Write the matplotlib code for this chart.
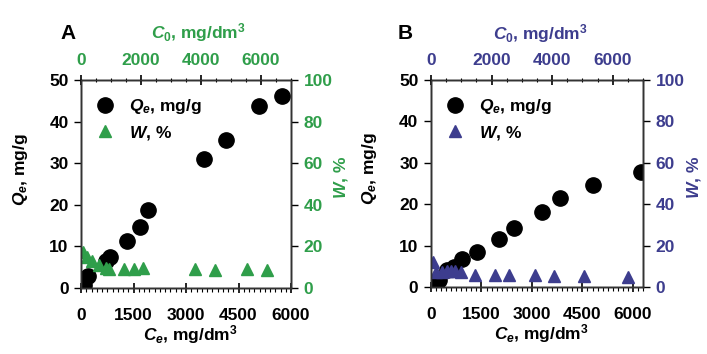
import matplotlib
matplotlib.use("Agg")
import matplotlib.pyplot as plt
import numpy as np
from matplotlib.ticker import MultipleLocator

plt.rcParams['font.family'] = ['Liberation Sans', 'DejaVu Sans']
plt.rcParams['font.weight'] = 'bold'
plt.rcParams['mathtext.fontset'] = 'custom'
plt.rcParams['mathtext.it'] = 'Liberation Sans:bold:italic'
plt.rcParams['mathtext.rm'] = 'Liberation Sans:bold'
plt.rcParams['mathtext.bf'] = 'Liberation Sans:bold'

# panel A
ce_q_a = [80, 66, 210, 710, 833, 1313, 1676, 1925, 3506, 4138, 5086, 5738]
q_a = [0.7, 1.4, 3.0, 6.6, 7.4, 11.4, 14.7, 18.75, 30.9, 35.6, 43.75, 46.1]
ce_w_a = [66, 180, 325, 517, 710, 805, 1215, 1523, 1782, 3267, 3842, 4733, 5307]
w_a = [17.5, 15.0, 13.1, 11.0, 9.5, 9.0, 9.0, 9.0, 9.5, 9.0, 8.7, 9.0, 8.7]

# panel B
ce_q_b = [20, 230, 484, 670, 935, 1380, 2010, 2475, 3284, 3848, 4816, 6231]
q_b = [1.0, 1.6, 4.1, 4.9, 6.7, 8.4, 11.6, 14.3, 18.2, 21.4, 24.6, 27.8]
ce_w_b = [50, 150, 330, 480, 600, 700, 900, 1306, 1910, 2320, 3100, 3650, 4560, 5860]
w_b = [12.0, 7.4, 7.4, 7.5, 7.5, 7.7, 7.4, 5.8, 5.8, 5.8, 5.8, 5.3, 5.3, 5.0]

green = '#2f9e4a'
blue = '#3d3d8e'
fs = 12.5

fig = plt.figure(figsize=(7.07, 3.54), dpi=100)


def make_panel(rect, letter, color, ce_q, q, ce_w, w, xmax, letter_x, top_x):
    ax = fig.add_axes(rect)
    axr = ax.twinx()
    axt = ax.twiny()

    l1, = ax.plot(ce_q, q, 'o', color='black', ms=11, zorder=3)
    l2, = axr.plot(ce_w, w, '^', color=color, ms=8, zorder=2)

    ax.set_xlim(0, xmax)
    ax.set_ylim(0, 50)
    axr.set_ylim(0, 100)
    axt.set_xlim(0, 7000)

    ax.xaxis.set_major_locator(MultipleLocator(1500))
    ax.xaxis.set_minor_locator(MultipleLocator(150))
    ax.yaxis.set_major_locator(MultipleLocator(10))
    axr.yaxis.set_major_locator(MultipleLocator(20))
    axt.xaxis.set_major_locator(MultipleLocator(2000))
    axt.xaxis.set_minor_locator(MultipleLocator(500))

    ax.tick_params(axis='x', which='major', direction='inout', length=7, width=1.2, labelsize=fs, pad=11)
    ax.tick_params(axis='x', which='minor', direction='out', length=3, width=0.8)
    ax.tick_params(axis='y', direction='out', length=5, width=1, labelsize=fs, pad=4)
    axr.tick_params(axis='y', direction='out', length=5, width=1, labelsize=fs, labelcolor=color, pad=4)
    axt.tick_params(axis='x', which='major', direction='inout', length=7, width=1.2, labelsize=fs,
                    labelcolor=color, pad=5)
    axt.tick_params(axis='x', which='minor', direction='inout', length=3, width=0.8)

    for a in (ax, axr, axt):
        for s in a.spines.values():
            s.set_linewidth(1.0)
            s.set_color('#333333')

    # axis titles placed by hand to follow the reference
    ax.text(0.52, -0.226, '$C_e$, mg/dm$^3$', transform=ax.transAxes, fontsize=fs,
            fontweight='bold', ha='center', va='center')
    ax.text(-0.29, 0.57, '$Q_e$, mg/g', transform=ax.transAxes, fontsize=fs,
            fontweight='bold', ha='center', va='center', rotation=90)
    axr.text(1.24, 0.53, '$W$, %', transform=axr.transAxes, fontsize=fs,
             fontweight='bold', ha='center', va='center', rotation=90, color=color)
    axt.text(top_x, 1.226, '$C_0$, mg/dm$^3$', transform=axt.transAxes, fontsize=fs,
             fontweight='bold', ha='center', va='center', color=color)

    axr.legend([l1, l2], ['$Q_e$, mg/g', '$W$, %'], loc='upper left', frameon=False,
               fontsize=fs, handletextpad=0.6, borderaxespad=0.4, labelspacing=0.45,
               handlelength=1.6, bbox_to_anchor=(-0.02, 0.985))

    fig.text(letter_x, 0.904, letter, fontsize=15, fontweight='bold', ha='left', va='center')


make_panel([0.1146, 0.1864, 0.2970, 0.5876], 'A', green, ce_q_a, q_a, ce_w_a, w_a, 6000, 0.085, 0.56)
make_panel([0.6096, 0.1893, 0.2999, 0.5848], 'B', blue, ce_q_b, q_b, ce_w_b, w_b, 6300, 0.562, 0.515)

fig.savefig('out.png', dpi=100)
